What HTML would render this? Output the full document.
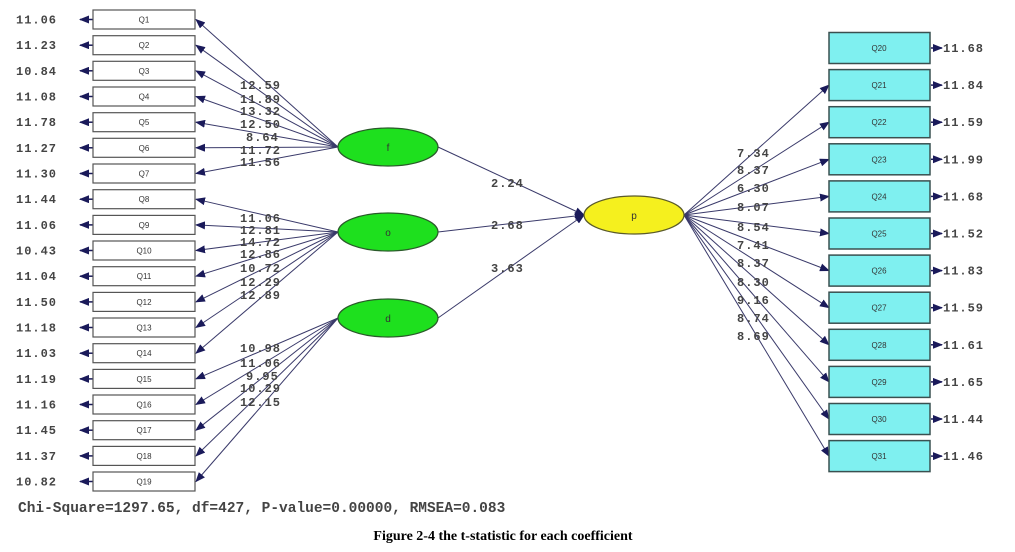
<!DOCTYPE html>
<html><head><meta charset="utf-8"><style>
html,body{margin:0;padding:0;background:#fff;width:1015px;height:552px;overflow:hidden}
svg{display:block}
.n{font-family:"Liberation Mono",monospace;font-size:12px;fill:#444;font-weight:bold;letter-spacing:1px}
.b{font-family:"Liberation Sans",sans-serif;font-size:8px;fill:#333;text-anchor:middle}
</style></head><body>
<svg width="1015" height="552" viewBox="0 0 1015 552" xmlns="http://www.w3.org/2000/svg">
<defs><marker id="a" markerWidth="10" markerHeight="8" refX="9" refY="4" orient="auto" markerUnits="userSpaceOnUse"><path d="M0,0 L10,4 L0,8 Z" fill="#1a1a5a"/></marker></defs>
<g stroke="#3a3a6a" stroke-width="1" fill="none" marker-end="url(#a)">
<line x1="338" y1="147" x2="196" y2="19.5"/><line x1="338" y1="147" x2="196" y2="45.2"/><line x1="338" y1="147" x2="196" y2="70.8"/><line x1="338" y1="147" x2="196" y2="96.5"/><line x1="338" y1="147" x2="196" y2="122.2"/><line x1="338" y1="147" x2="196" y2="147.8"/><line x1="338" y1="147" x2="196" y2="173.5"/>
<line x1="338" y1="232" x2="196" y2="199.2"/><line x1="338" y1="232" x2="196" y2="224.9"/><line x1="338" y1="232" x2="196" y2="250.5"/><line x1="338" y1="232" x2="196" y2="276.2"/><line x1="338" y1="232" x2="196" y2="301.9"/><line x1="338" y1="232" x2="196" y2="327.5"/><line x1="338" y1="232" x2="196" y2="353.2"/>
<line x1="338" y1="318" x2="196" y2="378.9"/><line x1="338" y1="318" x2="196" y2="404.5"/><line x1="338" y1="318" x2="196" y2="430.2"/><line x1="338" y1="318" x2="196" y2="455.9"/><line x1="338" y1="318" x2="196" y2="481.5"/>
<line x1="684" y1="215" x2="829" y2="85.1"/><line x1="684" y1="215" x2="829" y2="122.2"/><line x1="684" y1="215" x2="829" y2="159.3"/><line x1="684" y1="215" x2="829" y2="196.4"/><line x1="684" y1="215" x2="829" y2="233.5"/><line x1="684" y1="215" x2="829" y2="270.6"/><line x1="684" y1="215" x2="829" y2="307.7"/><line x1="684" y1="215" x2="829" y2="344.8"/><line x1="684" y1="215" x2="829" y2="381.9"/><line x1="684" y1="215" x2="829" y2="419"/><line x1="684" y1="215" x2="829" y2="456.1"/>
<line x1="438" y1="147" x2="584" y2="215"/><line x1="438" y1="232" x2="584" y2="215"/><line x1="438" y1="318" x2="584" y2="215"/>
</g>
<g stroke="#1a1a5a" stroke-width="1.5" marker-end="url(#a)">
<line x1="93" y1="19.5" x2="80" y2="19.5"/><line x1="93" y1="45.2" x2="80" y2="45.2"/><line x1="93" y1="70.8" x2="80" y2="70.8"/><line x1="93" y1="96.5" x2="80" y2="96.5"/><line x1="93" y1="122.2" x2="80" y2="122.2"/><line x1="93" y1="147.8" x2="80" y2="147.8"/><line x1="93" y1="173.5" x2="80" y2="173.5"/><line x1="93" y1="199.2" x2="80" y2="199.2"/><line x1="93" y1="224.9" x2="80" y2="224.9"/><line x1="93" y1="250.5" x2="80" y2="250.5"/><line x1="93" y1="276.2" x2="80" y2="276.2"/><line x1="93" y1="301.9" x2="80" y2="301.9"/><line x1="93" y1="327.5" x2="80" y2="327.5"/><line x1="93" y1="353.2" x2="80" y2="353.2"/><line x1="93" y1="378.9" x2="80" y2="378.9"/><line x1="93" y1="404.5" x2="80" y2="404.5"/><line x1="93" y1="430.2" x2="80" y2="430.2"/><line x1="93" y1="455.9" x2="80" y2="455.9"/><line x1="93" y1="481.5" x2="80" y2="481.5"/>
<line x1="931" y1="48" x2="942" y2="48"/><line x1="931" y1="85.1" x2="942" y2="85.1"/><line x1="931" y1="122.2" x2="942" y2="122.2"/><line x1="931" y1="159.3" x2="942" y2="159.3"/><line x1="931" y1="196.4" x2="942" y2="196.4"/><line x1="931" y1="233.5" x2="942" y2="233.5"/><line x1="931" y1="270.6" x2="942" y2="270.6"/><line x1="931" y1="307.7" x2="942" y2="307.7"/><line x1="931" y1="344.8" x2="942" y2="344.8"/><line x1="931" y1="381.9" x2="942" y2="381.9"/><line x1="931" y1="419" x2="942" y2="419"/><line x1="931" y1="456.1" x2="942" y2="456.1"/>
</g>
<g fill="#fff" stroke="#555" stroke-width="1.2">
<rect x="93" y="10" width="102" height="19"/><rect x="93" y="35.7" width="102" height="19"/><rect x="93" y="61.3" width="102" height="19"/><rect x="93" y="87" width="102" height="19"/><rect x="93" y="112.7" width="102" height="19"/><rect x="93" y="138.3" width="102" height="19"/><rect x="93" y="164" width="102" height="19"/><rect x="93" y="189.7" width="102" height="19"/><rect x="93" y="215.4" width="102" height="19"/><rect x="93" y="241" width="102" height="19"/><rect x="93" y="266.7" width="102" height="19"/><rect x="93" y="292.4" width="102" height="19"/><rect x="93" y="318" width="102" height="19"/><rect x="93" y="343.7" width="102" height="19"/><rect x="93" y="369.4" width="102" height="19"/><rect x="93" y="395" width="102" height="19"/><rect x="93" y="420.7" width="102" height="19"/><rect x="93" y="446.4" width="102" height="19"/><rect x="93" y="472" width="102" height="19"/>
</g>
<g fill="#7ff0f0" stroke="#3a5050" stroke-width="1.5">
<rect x="829" y="32.5" width="101" height="31"/><rect x="829" y="69.6" width="101" height="31"/><rect x="829" y="106.7" width="101" height="31"/><rect x="829" y="143.8" width="101" height="31"/><rect x="829" y="180.9" width="101" height="31"/><rect x="829" y="218" width="101" height="31"/><rect x="829" y="255.1" width="101" height="31"/><rect x="829" y="292.2" width="101" height="31"/><rect x="829" y="329.3" width="101" height="31"/><rect x="829" y="366.4" width="101" height="31"/><rect x="829" y="403.5" width="101" height="31"/><rect x="829" y="440.6" width="101" height="31"/>
</g>
<g stroke="#2a5a2a" stroke-width="1.2" fill="#1ee01e">
<ellipse cx="388" cy="147" rx="50" ry="19"/><ellipse cx="388" cy="232" rx="50" ry="19"/><ellipse cx="388" cy="318" rx="50" ry="19"/>
</g>
<ellipse cx="634" cy="215" rx="50" ry="19" fill="#f5f01e" stroke="#5a5a2a" stroke-width="1.2"/>
<g class="b" style="font-size:10px">
<text x="388" y="151">f</text><text x="388" y="236">o</text><text x="388" y="322">d</text><text x="634" y="219">p</text>
</g>
<g class="b">
<text x="144" y="22.5">Q1</text><text x="144" y="48.2">Q2</text><text x="144" y="73.8">Q3</text><text x="144" y="99.5">Q4</text><text x="144" y="125.2">Q5</text><text x="144" y="150.8">Q6</text><text x="144" y="176.5">Q7</text><text x="144" y="202.2">Q8</text><text x="144" y="227.9">Q9</text><text x="144" y="253.5">Q10</text><text x="144" y="279.2">Q11</text><text x="144" y="304.9">Q12</text><text x="144" y="330.5">Q13</text><text x="144" y="356.2">Q14</text><text x="144" y="381.9">Q15</text><text x="144" y="407.5">Q16</text><text x="144" y="433.2">Q17</text><text x="144" y="458.9">Q18</text><text x="144" y="484.5">Q19</text>
<text x="879" y="51">Q20</text><text x="879" y="88.1">Q21</text><text x="879" y="125.2">Q22</text><text x="879" y="162.3">Q23</text><text x="879" y="199.4">Q24</text><text x="879" y="236.5">Q25</text><text x="879" y="273.6">Q26</text><text x="879" y="310.7">Q27</text><text x="879" y="347.8">Q28</text><text x="879" y="384.9">Q29</text><text x="879" y="422">Q30</text><text x="879" y="459.1">Q31</text>
</g>
<g class="n">
<text x="16" y="23.5">11.06</text><text x="16" y="49.2">11.23</text><text x="16" y="74.8">10.84</text><text x="16" y="100.5">11.08</text><text x="16" y="126.2">11.78</text><text x="16" y="151.8">11.27</text><text x="16" y="177.5">11.30</text><text x="16" y="203.2">11.44</text><text x="16" y="228.9">11.06</text><text x="16" y="254.5">10.43</text><text x="16" y="280.2">11.04</text><text x="16" y="305.9">11.50</text><text x="16" y="331.5">11.18</text><text x="16" y="357.2">11.03</text><text x="16" y="382.9">11.19</text><text x="16" y="408.5">11.16</text><text x="16" y="434.2">11.45</text><text x="16" y="459.9">11.37</text><text x="16" y="485.5">10.82</text>
<text x="943" y="52">11.68</text><text x="943" y="89.1">11.84</text><text x="943" y="126.2">11.59</text><text x="943" y="163.3">11.99</text><text x="943" y="200.4">11.68</text><text x="943" y="237.5">11.52</text><text x="943" y="274.6">11.83</text><text x="943" y="311.7">11.59</text><text x="943" y="348.8">11.61</text><text x="943" y="385.9">11.65</text><text x="943" y="423">11.44</text><text x="943" y="460.1">11.46</text>
<text x="240" y="89">12.59</text><text x="240" y="103">11.89</text><text x="240" y="115">13.32</text><text x="240" y="128">12.50</text><text x="246" y="141">8.64</text><text x="240" y="154">11.72</text><text x="240" y="166">11.56</text>
<text x="240" y="222">11.06</text><text x="240" y="234">12.81</text><text x="240" y="246">14.72</text><text x="240" y="258">12.86</text><text x="240" y="272">10.72</text><text x="240" y="286">12.29</text><text x="240" y="299">12.89</text>
<text x="240" y="352">10.98</text><text x="240" y="367">11.06</text><text x="246" y="380">9.95</text><text x="240" y="392">10.29</text><text x="240" y="406">12.15</text>
<text x="737" y="157">7.34</text><text x="737" y="174">8.37</text><text x="737" y="192">6.30</text><text x="737" y="211">8.07</text><text x="737" y="231">8.54</text><text x="737" y="249">7.41</text><text x="737" y="267">8.37</text><text x="737" y="286">8.30</text><text x="737" y="304">9.16</text><text x="737" y="322">8.74</text><text x="737" y="340">8.69</text>
<text x="491" y="187">2.24</text><text x="491" y="229">2.68</text><text x="491" y="272">3.63</text>
</g>
<text x="18" y="512" style="font-family:'Liberation Mono',monospace;font-size:14.5px;fill:#444;font-weight:bold">Chi-Square=1297.65, df=427, P-value=0.00000, RMSEA=0.083</text>
<text x="503" y="540" text-anchor="middle" style="font-family:'Liberation Serif',serif;font-size:14px;font-weight:bold;fill:#000">Figure 2-4 the t-statistic for each coefficient</text>
</svg>
</body></html>
